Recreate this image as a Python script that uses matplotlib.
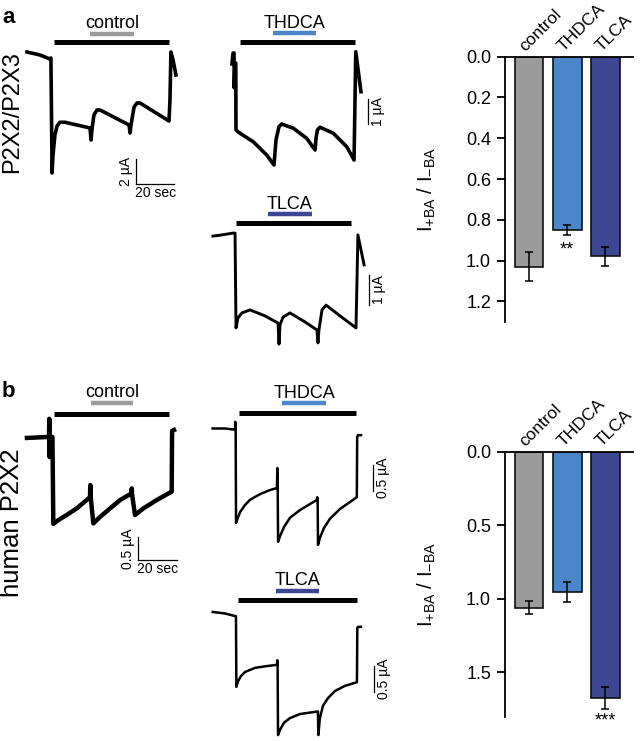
import numpy as np
import matplotlib.pyplot as plt
from matplotlib.transforms import offset_copy

plt.rcParams['font.family'] = ['Liberation Sans', 'DejaVu Sans']
plt.rcParams['mathtext.fontset'] = 'custom'
plt.rcParams['mathtext.rm'] = 'Liberation Sans'

# summary data: I(+BA) / I(-BA), mean and sem
groups = ['control', 'THDCA', 'TLCA']
bar_colors = ['#9b9b9b', '#4a86c8', '#3b4791']
ratio_a = [1.03, 0.85, 0.98]
sem_a = [0.07, 0.025, 0.045]
stars_a = ['', '**', '']
ratio_b = [1.06, 0.955, 1.675]
sem_b = [0.045, 0.07, 0.077]
stars_b = ['', '', '***']
ticks_a = [0.0, 0.2, 0.4, 0.6, 0.8, 1.0, 1.2]
ticks_b = [0.0, 0.5, 1.0, 1.5]

# example traces, time in s (0 = ATP on), current in uA
ctrl_a_t = [-14.1, -7.3, -2.1, -1.6, -1.0, -0.5, 0.5, 1.6, 3.1, 5.7, 18.75, 19.3, 19.8,
            20.8, 22.4, 24.0, 39.1, 39.6, 40.1, 41.7, 43.2, 44.8, 59.9, 60.4, 60.9, 62.0, 63.5]
ctrl_a_i = [0.32, 0.08, -0.24, -0.16, -9.36, -7.9, -6.3, -5.6, -5.3, -5.3, -5.76, -6.72, -5.84,
            -4.72, -4.32, -4.32, -5.52, -6.16, -5.52, -4.08, -3.76, -3.76, -5.2, -3.5, 0.32, -0.32, -1.52]

thdca_a_t = [-4.2, -3.6, -3.1, -3.0, -2.6, -2.2, -2.1, 0.0, 6.9, 13.9, 17.7, 18.75, 20.3, 21.7,
             27.8, 34.7, 39.1, 39.6, 40.3, 41.7, 48.6, 55.6, 59.4, 60.3, 63.0]
thdca_a_i = [-0.32, 0.12, 0.12, -1.28, -0.28, -0.28, -2.96, -3.09, -3.43, -3.96, -4.36, -3.36, -2.83, -2.72,
             -2.89, -3.29, -3.76, -3.28, -2.96, -2.85, -3.09, -3.63, -4.16, 0.17, -1.43]

tlca_a_t = [-12.0, -7.3, -1.6, -0.5, 0.0, 1.0, 3.1, 7.3, 15.1, 21.9, 22.4, 22.9, 24.5, 28.1,
            35.9, 42.2, 42.7, 43.2, 44.8, 46.9, 54.2, 62.5, 63.5, 66.7]
tlca_a_i = [-0.07, -0.03, 0.03, 0.03, -3.13, -2.8, -2.63, -2.53, -2.73, -2.97, -3.67, -3.03, -2.77, -2.63,
            -2.93, -3.2, -3.63, -3.2, -2.53, -2.37, -2.73, -3.13, -0.03, -1.03]

ctrl_b_t = [-14.1, -3.1, -2.6, -2.45, -2.3, -2.1, -0.8, -0.36, 2.2, 6.6, 11.8, 18.75, 18.9, 19.1,
            20.5, 24.0, 29.2, 34.4, 40.3, 40.5, 40.6, 42.2, 46.5, 53.5, 61.3, 61.5, 62.5]
ctrl_b_i = [-0.02, 0.0, 0.0, 0.39, -0.43, 0.0, 0.0, -1.86, -1.78, -1.67, -1.53, -1.29, -1.03, -1.28,
            -1.85, -1.71, -1.53, -1.35, -1.21, -1.10, -1.21, -1.67, -1.53, -1.35, -1.17, 0.13, 0.15]

thdca_b_t = [-13.9, -7.4, -3.1, -2.2, -2.1, -1.9, -1.7, -0.7, 0.4, 3.0, 5.6, 10.8, 16.0, 19.6, 19.8,
             20.0, 20.2, 21.2, 23.3, 26.4, 31.6, 40.5, 40.6, 40.8, 41.0, 42.0, 44.1, 47.2, 52.4,
             61.2, 61.4, 61.8, 63.4]
thdca_b_i = [0.01, 0.01, -0.01, 0.0, 0.14, 0.0, -1.83, -1.73, -1.62, -1.48, -1.38, -1.27, -1.19, -1.15, -0.76,
             -1.15, -2.2, -2.09, -1.91, -1.73, -1.58, -1.38, -1.33, -1.38, -2.26, -2.12, -1.93, -1.75, -1.56,
             -1.33, -0.16, -0.12, -0.12]

tlca_b_t = [-13.0, -6.6, -1.4, -0.9, -0.7, 0.2, 1.7, 3.8, 9.0, 14.2, 20.5, 20.6, 20.8, 21.0, 22.0,
            24.1, 27.2, 32.4, 41.8, 42.0, 42.8, 44.4, 47.0, 50.7, 55.9, 62.1, 62.3, 62.7, 64.2]
tlca_b_i = [0.04, 0.01, -0.04, -0.04, -1.42, -1.31, -1.21, -1.13, -1.05, -1.02, -0.99, -0.9, -1.01, -2.36, -2.26,
            -2.12, -2.03, -1.95, -1.9, -2.36, -2.03, -1.79, -1.64, -1.5, -1.4, -1.33, -0.27, -0.25, -0.25]

# ATP off and bile acid on/off times (s) for the six traces
atp_off = [60, 60, 60, 60, 61, 62]
ba_on = [18.9, 17.0, 16.7, 19.1, 22.4, 19.8]
ba_off = [41.6, 39.6, 39.4, 41.3, 45.0, 42.3]

W, H = 642, 741
SX = 1.92  # px per second

fig = plt.figure(figsize=(W / 100, H / 100), dpi=100)


def px_axes(l, t, r, b):
    return fig.add_axes([l / W, 1 - b / H, (r - l) / W, (b - t) / H])


def shift(ax, dx=0, dy=0):
    return offset_copy(ax.transData, fig=fig, x=dx, y=dy, units='dots')


def trace(k, g, t, cur, x0, y0, sy, lw, bar_y, ba_y, sb, sb_size, corner):
    # x0, y0: pixel of t=0, I=0 ; sy: px per uA
    l, r, top, bot = x0 - 16 * SX, x0 + 75 * SX, y0 - 40, y0 + 140
    ax = px_axes(l, top, r, bot)
    ax.set_xlim((l - x0) / SX, (r - x0) / SX)
    ax.set_ylim((y0 - bot) / sy, (y0 - top) / sy)
    ax.set_axis_off()
    ax.plot(t, cur, color='k', lw=lw, clip_on=False, solid_joinstyle='round')
    yb = (y0 - bar_y) / sy
    yc = (y0 - ba_y) / sy
    ax.plot([0, atp_off[k]], [yb, yb], color='k', lw=3.6, solid_capstyle='butt', clip_on=False)
    ax.plot([ba_on[k], ba_off[k]], [yc, yc], color=bar_colors[g], lw=3.2,
            solid_capstyle='butt', clip_on=False)
    ax.text((ba_on[k] + ba_off[k]) / 2, yc, groups[g], transform=shift(ax, 0, 5.5),
            ha='center', va='baseline', fontsize=13)
    st = (sb[0] - x0) / SX
    si = (y0 - sb[1]) / sy
    lab = f'{sb_size:g} µA'
    ax.plot([st, st], [si, si + sb_size], color='k', lw=0.9, clip_on=False)
    if corner:
        ax.plot([st, st + 20], [si, si], color='k', lw=0.9, clip_on=False)
        ax.text(st, si + sb_size / 2, lab, transform=shift(ax, -3, 0), rotation=90,
                ha='right', va='center', fontsize=10)
        ax.text(st + 10, si, '20 sec', transform=shift(ax, 0, -2), ha='center', va='top', fontsize=10)
    else:
        ax.text(st, si + sb_size / 2, lab, transform=shift(ax, 3, 0), rotation=90,
                ha='left', va='center', fontsize=10)


def summary(top, bot, ymax, ticks, ratio, sem, stars, star_dy):
    ax = px_axes(505, top, 633, bot)
    x = np.arange(len(groups))
    ax.bar(x, ratio, width=0.745, color=bar_colors, edgecolor='#111111', linewidth=1.2, zorder=2)
    ax.errorbar(x, ratio, yerr=sem, fmt='none', ecolor='k', elinewidth=1.1, capsize=3,
                capthick=1.1, zorder=3)
    ax.set_xlim(-0.63, 2.72)
    ax.set_ylim(ymax, 0)
    ax.set_yticks(ticks)
    ax.set_yticklabels([f'{v:.1f}' for v in ticks])
    ax.set_xticks([])
    ax.spines[['right', 'bottom']].set_visible(False)
    ax.spines[['left', 'top']].set_linewidth(1.3)
    ax.tick_params(axis='y', direction='out', length=6, width=1.3, labelsize=13, pad=4)
    ax.set_ylabel(r'I$_{\mathregular{+BA}}$ / I$_{\mathregular{-BA}}$', fontsize=14.5)
    ax.yaxis.set_label_coords(-0.52, 0.5)
    for i, g in enumerate(groups):
        ax.text(i, 0, g, transform=shift(ax, -2, 3), rotation=45, rotation_mode='anchor',
                ha='left', va='bottom', fontsize=12.5)
        if stars[i]:
            ax.text(i, ratio[i] + sem[i], stars[i], transform=shift(ax, 0, star_dy),
                    ha='center', va='center', fontsize=13, clip_on=False)


# panel a : P2X2/P2X3
trace(0, 0, ctrl_a_t, ctrl_a_i, 54, 56, 12.5, 2.6, 42.3, 33.7, (136, 184), 2, True)
trace(1, 1, thdca_a_t, thdca_a_i, 240, 56, 25, 2.6, 42.3, 33.3, (368, 124), 1, False)
trace(2, 2, tlca_a_t, tlca_a_i, 236, 234, 30, 2.1, 223.3, 214.3, (369, 305), 1, False)
summary(56.7, 321.7, 1.30, ticks_a, ratio_a, sem_a, stars_a, -15)

# panel b : human P2X2
trace(3, 0, ctrl_b_t, ctrl_b_i, 54, 437, 46.7, 3.2, 414.3, 402.7, (138.3, 560), 0.5, True)
trace(4, 1, thdca_b_t, thdca_b_i, 239.3, 429, 51.3, 1.8, 412.7, 403.3, (373.3, 490.7), 0.5, False)
trace(5, 2, tlca_b_t, tlca_b_i, 237.7, 614, 51.3, 1.8, 600, 590.7, (374, 691.7), 0.5, False)
summary(451.7, 717.3, 1.807, ticks_b, ratio_b, sem_b, stars_b, -12)

fig.text(2 / W, 1 - 23 / H, 'a', fontsize=16, fontweight='bold', ha='left', va='baseline')
fig.text(2 / W, 1 - 397 / H, 'b', fontsize=16, fontweight='bold', ha='left', va='baseline')
fig.text(12.5 / W, 1 - 112 / H, 'P2X2/P2X3', fontsize=17, rotation=90, ha='center', va='center')
fig.text(12.5 / W, 1 - 523 / H, 'human P2X2', fontsize=18.5, rotation=90, ha='center', va='center')

fig.savefig('out.png', dpi=100)
